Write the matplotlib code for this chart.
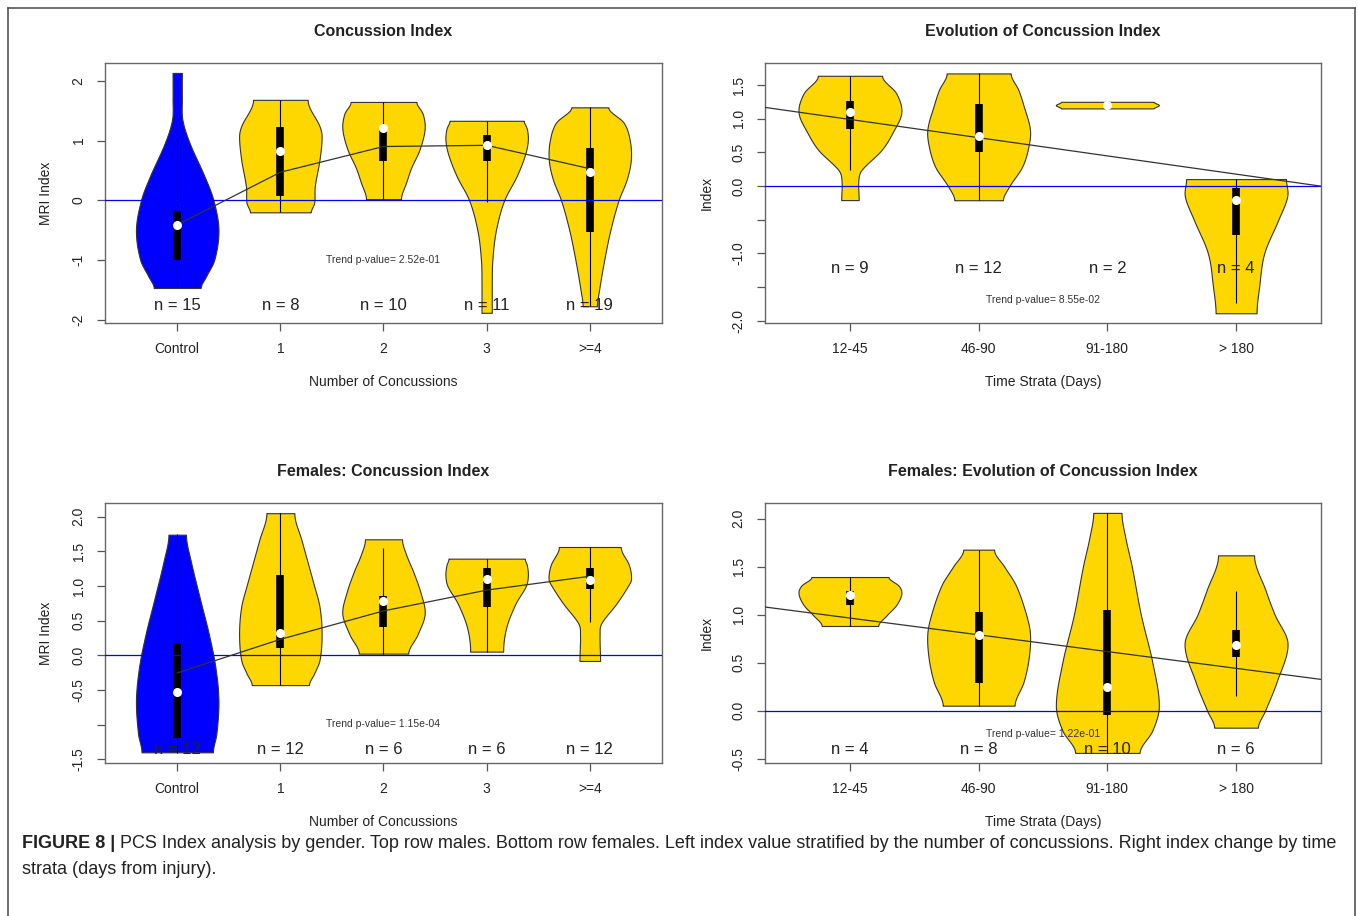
import numpy as np
import matplotlib
matplotlib.use("Agg")
import matplotlib.pyplot as plt
from matplotlib.lines import Line2D

plt.rcParams['font.family'] = ['Liberation Sans', 'DejaVu Sans']

GOLD = '#FFD700'
BLUE = '#0000FF'
INK = '#222222'

# ---------------- males, by number of concussions ----------------
conc_labels = ['Control', '1', '2', '3', '>=4']
m_conc_n = [15, 8, 10, 11, 19]
m_conc_q1 = [-1.00, 0.08, 0.66, 0.65, -0.53]
m_conc_med = [-0.41, 0.82, 1.21, 0.92, 0.48]
m_conc_q3 = [-0.18, 1.23, 1.17, 1.10, 0.88]
m_conc_wlo = [-1.455, -0.20, 0.02, -0.02, -1.77]
m_conc_whi = [1.06, 1.68, 1.645, 1.33, 1.555]
m_conc_trend = [-0.41, 0.47, 0.90, 0.92, 0.53]
# density outlines: (index value, half width)
m_conc_shape = [
    [(-1.465, 0.227), (-1.27, 0.28), (-0.99, 0.36), (-0.49, 0.40), (0.01, 0.35),
     (0.40, 0.265), (0.96, 0.12), (1.35, 0.05), (1.7, 0.045), (2.13, 0.045)],
    [(-0.20, 0.287), (-0.04, 0.32), (0.23, 0.325), (0.68, 0.37), (1.07, 0.39),
     (1.24, 0.37), (1.68, 0.258)],
    [(0.02, 0.17), (0.3, 0.22), (0.55, 0.27), (0.85, 0.35), (1.2, 0.40),
     (1.45, 0.38), (1.645, 0.32)],
    [(-1.88, 0.05), (-1.4, 0.05), (-1.0, 0.055), (-0.5, 0.09), (0.0, 0.17),
     (0.4, 0.29), (0.75, 0.37), (1.0, 0.40), (1.2, 0.39), (1.33, 0.36)],
    [(-1.77, 0.07), (-1.5, 0.09), (-1.0, 0.14), (-0.5, 0.20), (0.0, 0.28),
     (0.35, 0.36), (0.68, 0.40), (1.0, 0.39), (1.3, 0.33), (1.555, 0.18)],
]

# ---------------- males, by time strata ----------------
time_labels = ['12-45', '46-90', '91-180', '> 180']
m_time_n = [9, 12, 2, 4]
m_time_q1 = [0.85, 0.51, 1.19, -0.72]
m_time_med = [1.095, 0.75, 1.204, -0.21]
m_time_q3 = [1.27, 1.22, 1.22, -0.025]
m_time_wlo = [0.24, -0.21, 1.19, -1.74]
m_time_whi = [1.64, 1.675, 1.22, 0.104]
m_time_fit = (1.262, -0.271)   # intercept, slope
m_time_shape = [
    [(-0.208, 0.068), (0.1, 0.066), (0.24, 0.09), (0.535, 0.245), (0.79, 0.33),
     (1.095, 0.40), (1.38, 0.36), (1.64, 0.25)],
    [(-0.21, 0.19), (0.0, 0.24), (0.29, 0.34), (0.6, 0.39), (0.85, 0.40),
     (1.2, 0.35), (1.43, 0.31), (1.675, 0.25)],
    [(1.155, 0.36), (1.204, 0.40), (1.253, 0.36)],
    [(-1.89, 0.16), (-1.5, 0.18), (-1.0, 0.22), (-0.5, 0.33), (-0.15, 0.40),
     (0.104, 0.39)],
]

# ---------------- females, by number of concussions ----------------
f_conc_n = [12, 12, 6, 6, 12]
f_conc_q1 = [-1.20, 0.106, 0.41, 0.69, 0.95]
f_conc_med = [-0.53, 0.327, 0.78, 1.10, 1.08]
f_conc_q3 = [0.17, 1.163, 0.85, 1.26, 1.26]
f_conc_wlo = [-1.41, -0.433, 0.024, 0.053, 0.48]
f_conc_whi = [1.745, 2.05, 1.55, 1.394, 1.5625]
f_conc_trend = [-0.255, 0.23, 0.64, 0.94, 1.14]
f_conc_shape = [
    [(-1.40, 0.346), (-1.13, 0.38), (-0.65, 0.40), (-0.17, 0.37), (0.31, 0.306),
     (0.79, 0.225), (1.37, 0.13), (1.74, 0.085)],
    [(-0.43, 0.27), (-0.26, 0.32), (-0.07, 0.37), (0.31, 0.39), (0.7, 0.37),
     (1.03, 0.314), (1.66, 0.20), (2.05, 0.132)],
    [(0.024, 0.24), (0.3, 0.33), (0.6, 0.40), (0.9, 0.36), (1.2, 0.29),
     (1.45, 0.22), (1.673, 0.18)],
    [(0.053, 0.16), (0.4, 0.19), (0.745, 0.28), (1.0, 0.38), (1.15, 0.40),
     (1.3, 0.39), (1.394, 0.37)],
    [(-0.082, 0.10), (0.3, 0.095), (0.457, 0.11), (0.75, 0.26), (1.0, 0.37),
     (1.1, 0.40), (1.3, 0.38), (1.5625, 0.30)],
]

# ---------------- females, by time strata ----------------
f_time_n = [4, 8, 10, 6]
f_time_q1 = [1.10, 0.29, -0.05, 0.56]
f_time_med = [1.20, 0.785, 0.247, 0.68]
f_time_q3 = [1.25, 1.03, 1.045, 0.837]
f_time_wlo = [0.882, 0.052, -0.44, 0.15]
f_time_whi = [1.392, 1.677, 2.06, 1.25]
f_time_fit = (1.139, -0.1745)
f_time_shape = [
    [(0.882, 0.22), (1.0, 0.29), (1.1, 0.36), (1.22, 0.40), (1.3, 0.38),
     (1.392, 0.30)],
    [(0.052, 0.28), (0.3, 0.35), (0.55, 0.39), (0.8, 0.40), (1.0, 0.37),
     (1.305, 0.29), (1.5, 0.20), (1.677, 0.12)],
    [(-0.44, 0.25), (-0.205, 0.35), (0.05, 0.40), (0.5, 0.35), (1.0, 0.26),
     (1.5, 0.19), (1.8, 0.14), (2.06, 0.11)],
    [(-0.177, 0.17), (0.0, 0.225), (0.3, 0.315), (0.7, 0.40), (1.0, 0.30),
     (1.25, 0.23), (1.618, 0.14)],
]


def violin_stats(shape, med):
    """Smooth outline through the (value, half width) knots of one violin."""
    ys = np.array([p[0] for p in shape], dtype=float)
    ws = np.array([p[1] for p in shape], dtype=float)
    # cubic Hermite with finite-difference slopes
    m = np.zeros_like(ws)
    if len(ys) > 2:
        m[1:-1] = (ws[2:] - ws[:-2]) / (ys[2:] - ys[:-2])
    grid = np.linspace(ys[0], ys[-1], 300)
    idx = np.clip(np.searchsorted(ys, grid, side='right') - 1, 0, len(ys) - 2)
    h = ys[idx + 1] - ys[idx]
    t = (grid - ys[idx]) / h
    h00 = 2 * t**3 - 3 * t**2 + 1
    h10 = t**3 - 2 * t**2 + t
    h01 = -2 * t**3 + 3 * t**2
    h11 = t**3 - t**2
    vals = (h00 * ws[idx] + h10 * h * m[idx] + h01 * ws[idx + 1]
            + h11 * h * m[idx + 1])
    k = np.hanning(9)
    k /= k.sum()
    vals = np.convolve(np.pad(vals, 4, mode='edge'), k, mode='valid')
    return dict(coords=grid, vals=np.clip(vals, 0.03, None), mean=med,
                median=med, min=ys[0], max=ys[-1])


def draw_panel(ax, labels, n, shapes, q1, med, q3, wlo, whi, colors,
               ylim, yticks, yticklabels, ylabel, xlabel, title, n_y,
               ptext, p_y):
    pos = np.arange(1, len(labels) + 1)
    stats = [violin_stats(s, m) for s, m in zip(shapes, med)]
    parts = ax.violin(stats, positions=pos, widths=0.8, showmeans=False,
                      showextrema=False, showmedians=False)
    for body, c in zip(parts['bodies'], colors):
        body.set_facecolor(c)
        body.set_edgecolor('#333333')
        body.set_linewidth(0.8)
        body.set_alpha(1)
        body.set_zorder(2)
    ax.vlines(pos, wlo, whi, color='black', lw=0.8, zorder=3)
    ax.vlines(pos, q1, q3, color='black', lw=5.5, capstyle='butt', zorder=3)
    ax.plot(pos, med, 'o', color='white', ms=5.5, mec='white', zorder=4)
    ax.axhline(0, color=BLUE, lw=0.9, zorder=3.5)

    for x, k in zip(pos, n):
        ax.text(x, n_y, f"n = {k}", ha='center', va='center', fontsize=12,
                color=INK, zorder=5)
    ax.text((pos[0] + pos[-1]) / 2, p_y, ptext, ha='center', va='center',
            fontsize=7.5, color='#333333', zorder=5)

    pad = 0.04 * len(labels)
    ax.set_xlim(0.5 - pad, len(labels) + 0.5 + pad)
    ax.set_ylim(*ylim)
    ax.set_xticks(pos)
    ax.set_xticklabels(labels)
    ax.set_yticks(yticks)
    ax.set_yticklabels(yticklabels, rotation=90, va='center')
    ax.tick_params(direction='out', length=6, width=0.9, colors='#555555',
                   labelcolor=INK, labelsize=10, pad=8)
    for sp in ax.spines.values():
        sp.set_color('#666666')
        sp.set_linewidth(1.0)
    ax.set_ylabel(ylabel, fontsize=10, color=INK)
    ax.set_xlabel(xlabel, fontsize=10, color=INK)
    ax.yaxis.set_label_coords(-0.093, 0.5)
    ax.xaxis.set_label_coords(0.5, -0.20)
    ax.text(0.5, 1.12, title, transform=ax.transAxes, ha='center',
            va='center', fontsize=11.5, fontweight='bold', color=INK)
    return pos


fig = plt.figure(figsize=(13.58, 9.16), dpi=100)
W, H = 1358.0, 916.0


def add_axes(left, top, right, bottom):
    return fig.add_axes([left / W, 1 - bottom / H, (right - left) / W,
                         (bottom - top) / H])


ax1 = add_axes(105, 63, 662, 323)
ax2 = add_axes(765, 63, 1321, 323)
ax3 = add_axes(105, 503, 662, 763)
ax4 = add_axes(765, 503, 1321, 763)

conc_colors = [BLUE] + [GOLD] * 4
time_colors = [GOLD] * 4

p1 = draw_panel(ax1, conc_labels, m_conc_n, m_conc_shape, m_conc_q1, m_conc_med,
                m_conc_q3, m_conc_wlo, m_conc_whi, conc_colors,
                (-2.05, 2.296), [-2, -1, 0, 1, 2], ['-2', '-1', '0', '1', '2'],
                'MRI Index', 'Number of Concussions', 'Concussion Index',
                -1.76, 'Trend p-value= 2.52e-01', -0.99)
ax1.plot(p1, m_conc_trend, color='#333333', lw=0.9, zorder=3.6)

p2 = draw_panel(ax2, time_labels, m_time_n, m_time_shape, m_time_q1, m_time_med,
                m_time_q3, m_time_wlo, m_time_whi, time_colors,
                (-2.035, 1.83), [-2, -1.5, -1, -0.5, 0, 0.5, 1, 1.5],
                ['-2.0', '', '-1.0', '', '0.0', '0.5', '1.0', '1.5'],
                'Index', 'Time Strata (Days)', 'Evolution of Concussion Index',
                -1.22, 'Trend p-value= 8.55e-02', -1.69)
ax2.axline((0, m_time_fit[0]), slope=m_time_fit[1], color='#333333', lw=0.9,
           zorder=3.6)

p3 = draw_panel(ax3, conc_labels, f_conc_n, f_conc_shape, f_conc_q1, f_conc_med,
                f_conc_q3, f_conc_wlo, f_conc_whi, conc_colors,
                (-1.554, 2.197), [-1.5, -1, -0.5, 0, 0.5, 1, 1.5, 2],
                ['-1.5', '', '-0.5', '0.0', '0.5', '1.0', '1.5', '2.0'],
                'MRI Index', 'Number of Concussions', 'Females: Concussion Index',
                -1.36, 'Trend p-value= 1.15e-04', -0.985)
ax3.plot(p3, f_conc_trend, color='#333333', lw=0.9, zorder=3.6)

p4 = draw_panel(ax4, time_labels, f_time_n, f_time_shape, f_time_q1, f_time_med,
                f_time_q3, f_time_wlo, f_time_whi, time_colors,
                (-0.545, 2.163), [-0.5, 0, 0.5, 1, 1.5, 2],
                ['-0.5', '0.0', '0.5', '1.0', '1.5', '2.0'],
                'Index', 'Time Strata (Days)',
                'Females: Evolution of Concussion Index',
                -0.406, 'Trend p-value= 1.22e-01', -0.247)
ax4.axline((0, f_time_fit[0]), slope=f_time_fit[1], color='#333333', lw=0.9,
           zorder=3.6)

# outer frame (top, left, right)
fx0, fx1, fy = 8 / W, 1355 / W, 1 - 8 / H
for xs, ys in [((fx0, fx1), (fy, fy)), ((fx0, fx0), (0, fy)), ((fx1, fx1), (0, fy))]:
    fig.add_artist(Line2D(xs, ys, transform=fig.transFigure, color='#555555',
                          lw=1.2))

# caption
cap_y1 = 1 - 843 / H
cap_y2 = 1 - 870 / H
cap_size = 13
bold = fig.text(22 / W, cap_y1, 'FIGURE 8 |', fontsize=cap_size,
                fontweight='bold', color='#222222', va='center')
fig.canvas.draw()
bb = bold.get_window_extent(fig.canvas.get_renderer())
fig.text(bb.x1 / W + 5 / W, cap_y1,
         'PCS Index analysis by gender. Top row males. Bottom row females. '
         'Left index value stratified by the number of concussions. '
         'Right index change by time',
         fontsize=cap_size, color='#222222', va='center')
fig.text(22 / W, cap_y2, 'strata (days from injury).', fontsize=cap_size,
         color='#222222', va='center')

fig.savefig('out.png', dpi=100, facecolor='white')
